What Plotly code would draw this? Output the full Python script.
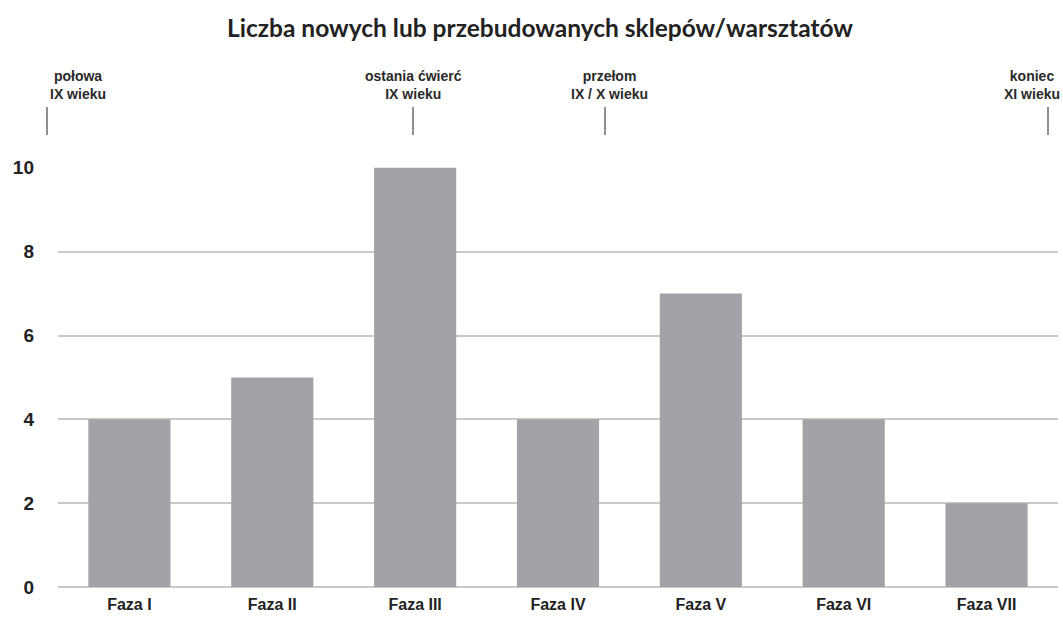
import plotly.graph_objects as go

# Phases and number of new or rebuilt shops/workshops
phases = ["Faza I", "Faza II", "Faza III", "Faza IV", "Faza V", "Faza VI", "Faza VII"]
counts = [4, 5, 10, 4, 7, 4, 2]

# Chronological markers shown above the plot
period_labels = ["połowa<br>IX wieku", "ostania ćwierć<br>IX wieku",
                 "przełom<br>IX / X wieku", "koniec<br>XI wieku"]
period_x = [-0.011, 0.355, 0.547, 0.99]
period_anchor = ["left", "center", "center", "right"]
period_text_x = [-0.010, 0.355, 0.551, 1.004]

label_font = "Liberation Sans Narrow, Arial Narrow, Liberation Sans, Arial"

fig = go.Figure(go.Bar(
    x=phases, y=counts,
    marker=dict(color="#a2a3a6", line=dict(width=0)),
    width=0.575,
))

shapes = []
annotations = []
for lab, px, anc, tx in zip(period_labels, period_x, period_anchor, period_text_x):
    shapes.append(dict(type="line", xref="paper", yref="paper",
                       x0=px, x1=px, y0=1.076, y1=1.143,
                       line=dict(color="#6a6a6a", width=1.5)))
    annotations.append(dict(text=lab, xref="paper", yref="paper",
                            x=tx, y=1.150, xanchor=anc, yanchor="bottom",
                            align="center", showarrow=False,
                            font=dict(family=label_font, size=14, color="#2a2a2a",
                                      weight="bold")))

fig.update_layout(
    width=1063, height=625,
    margin=dict(l=58, r=5, t=167, b=38),
    paper_bgcolor="white", plot_bgcolor="white",
    title=dict(text="<b>Liczba nowych lub przebudowanych sklepów/warsztatów</b>",
               x=0.508, xanchor="center", y=0.955, yanchor="middle",
               font=dict(family="Lato, Open Sans, sans-serif", size=24.5, color="#222222")),
    showlegend=False,
    shapes=shapes,
    annotations=annotations,
    xaxis=dict(showgrid=False, showline=False, ticks="",
               tickfont=dict(family=label_font, size=16, color="#222222", weight="bold"),
               ticklabelstandoff=6),
    yaxis=dict(range=[0, 10.02], tickvals=[0, 2, 4, 6, 8, 10],
               showgrid=True, gridcolor="#c9c9c9", gridwidth=2,
               zeroline=True, zerolinecolor="#c9c9c9", zerolinewidth=2,
               showline=False, ticks="",
               tickfont=dict(family="Liberation Sans, Arial", size=19, color="#222222",
                             weight="bold"),
               ticklabelstandoff=23),
)

fig.write_html("out.html")
